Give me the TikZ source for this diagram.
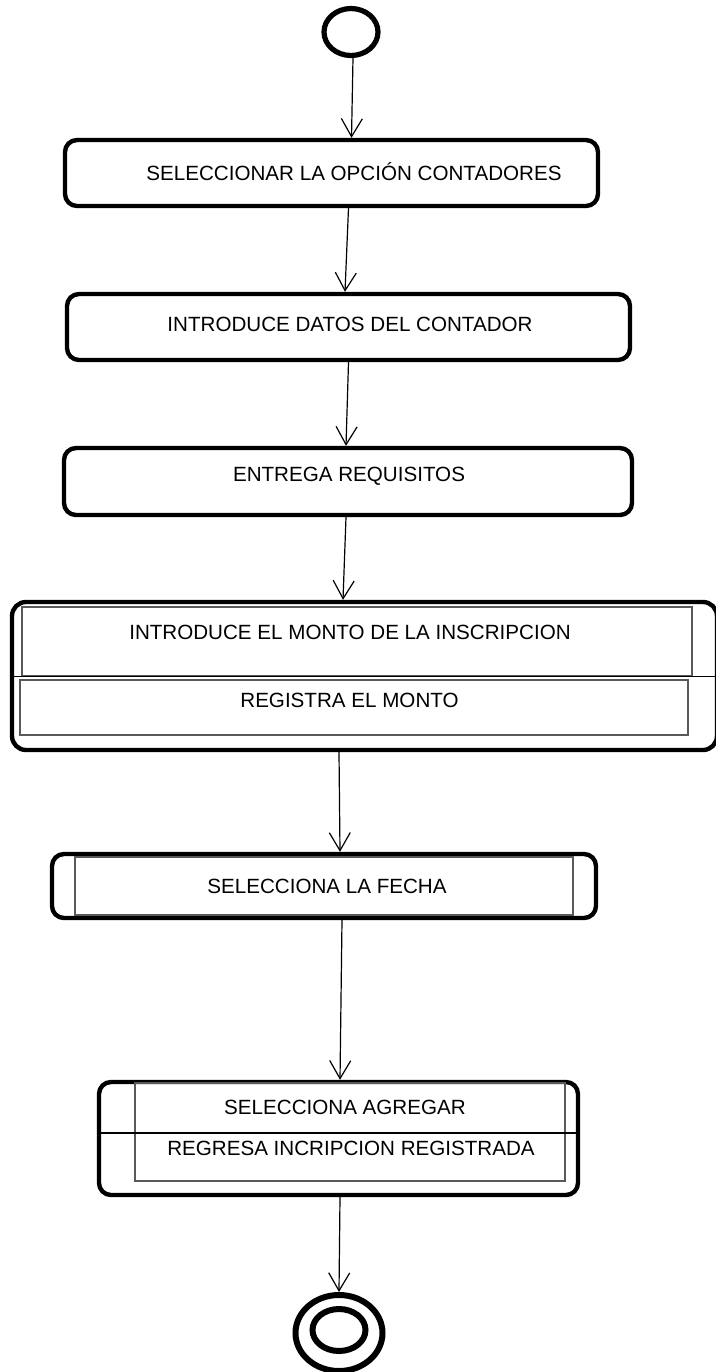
\documentclass[tikz,border=0pt]{standalone}
\usepackage{fontspec}
\setmainfont{Liberation Sans}
\usetikzlibrary{positioning,calc,arrows.meta,shapes.geometric}
\tikzset{act/.style={draw,line width=2.2pt,rounded corners=6pt,inner sep=0pt},
	 lane/.style={draw=black!65,line width=0.6pt,inner sep=0pt},
	 state/.style={ellipse,draw,line width=2.6pt,inner sep=0pt},
	 txt/.style={font=\fontsize{10.3}{12}\selectfont,inner sep=0pt},
	 flow/.style={line width=0.6pt,-{Straight Barb[length=9pt,width=10.5pt,line width=0.6pt]}}
	 }
\begin{document}
\begin{tikzpicture}[x=0.5pt,y=-0.5pt] % actividad inscripcion
        \useasboundingbox (0,0) rectangle (716,1372);
        \node[state,minimum width=27pt,minimum height=23.5pt] (ini) at (351,32) {};
        \node[act,minimum width=266.5pt,minimum height=33pt] (b1) at (331.5,173) {};
        \node[txt] (t1) at (354,172) {SELECCIONAR LA OPCIÓN CONTADORES};
        \node[act,minimum width=281.5pt,minimum height=33pt] (b2) at (348.5,327) {};
        \node[txt] (t2) at (350,324) {INTRODUCE DATOS DEL CONTADOR};
        \node[act,minimum width=284pt,minimum height=33.5pt] (b3) at (348,481.5) {};
        \node[txt] (t3) at (349,476) {ENTREGA REQUISITOS};
        % bloque con dos acciones
        \node[act,rounded corners=7pt,minimum width=352.5pt,minimum height=74pt] (b4) at (364.5,676) {};
        \node[lane,minimum width=335pt,minimum height=34.5pt] (r4a) at (357,641.5) {};
        \node[lane,minimum width=334pt,minimum height=27.5pt] (r4b) at (354,707.5) {};
        \node[txt] (t4a) at (350,632) {INTRODUCE EL MONTO DE LA INSCRIPCION};
        \node[txt] (t4b) at (349.5,700) {REGISTRA EL MONTO};
        \draw[line width=0.6pt] (b4.west |- r4a.south) -- (b4.east |- r4a.south);
        \node[act,minimum width=272pt,minimum height=32pt] (b5) at (324,886) {};
        \node[lane,minimum width=249pt,minimum height=29pt] (r5) at (324,886) {};
        \node[txt] (t5) at (327,886) {SELECCIONA LA FECHA};
        \node[act,minimum width=239.5pt,minimum height=56.5pt] (b6) at (338.5,1138.5) {};
        \node[lane,minimum width=215pt,minimum height=49pt] (r6) at (350,1132) {};
        \node[txt] (t6a) at (345,1107) {SELECCIONA AGREGAR};
        \node[txt] (t6b) at (351,1148) {REGRESA INCRIPCION REGISTRADA};
        \draw[line width=0.6pt] (b6.west |- 0,1133) -- (b6.east |- 0,1133);
        \node[state,line width=3pt,minimum width=43.5pt,minimum height=38pt] (fin) at (339,1333) {};
        \node[state,line width=3pt,minimum width=26.5pt,minimum height=21pt] (fincore) at (339,1330) {};
        \draw[flow] ($(ini.south)+(2,0)$) -- ($(b1.north)+(20,0)$);
        \draw[flow] ($(b1.south)+(17,0)$) -- ($(b2.north)+(-3.5,0)$);
        \draw[flow] (b2.south) -- ($(b3.north)+(-2,0)$);
        \draw[flow] ($(b3.south)+(-2,0)$) -- ($(b4.north)+(-21.5,0)$);
        \draw[flow] ($(b4.south)+(-25.5,0)$) -- ($(b5.north)+(16,0)$);
        \draw[flow] ($(b5.south)+(18,0)$) -- ($(b6.north)+(1.5,0)$);
        \draw[flow] ($(b6.south)+(1.5,0)$) -- (fin.north);
     \end{tikzpicture}
\end{document}
